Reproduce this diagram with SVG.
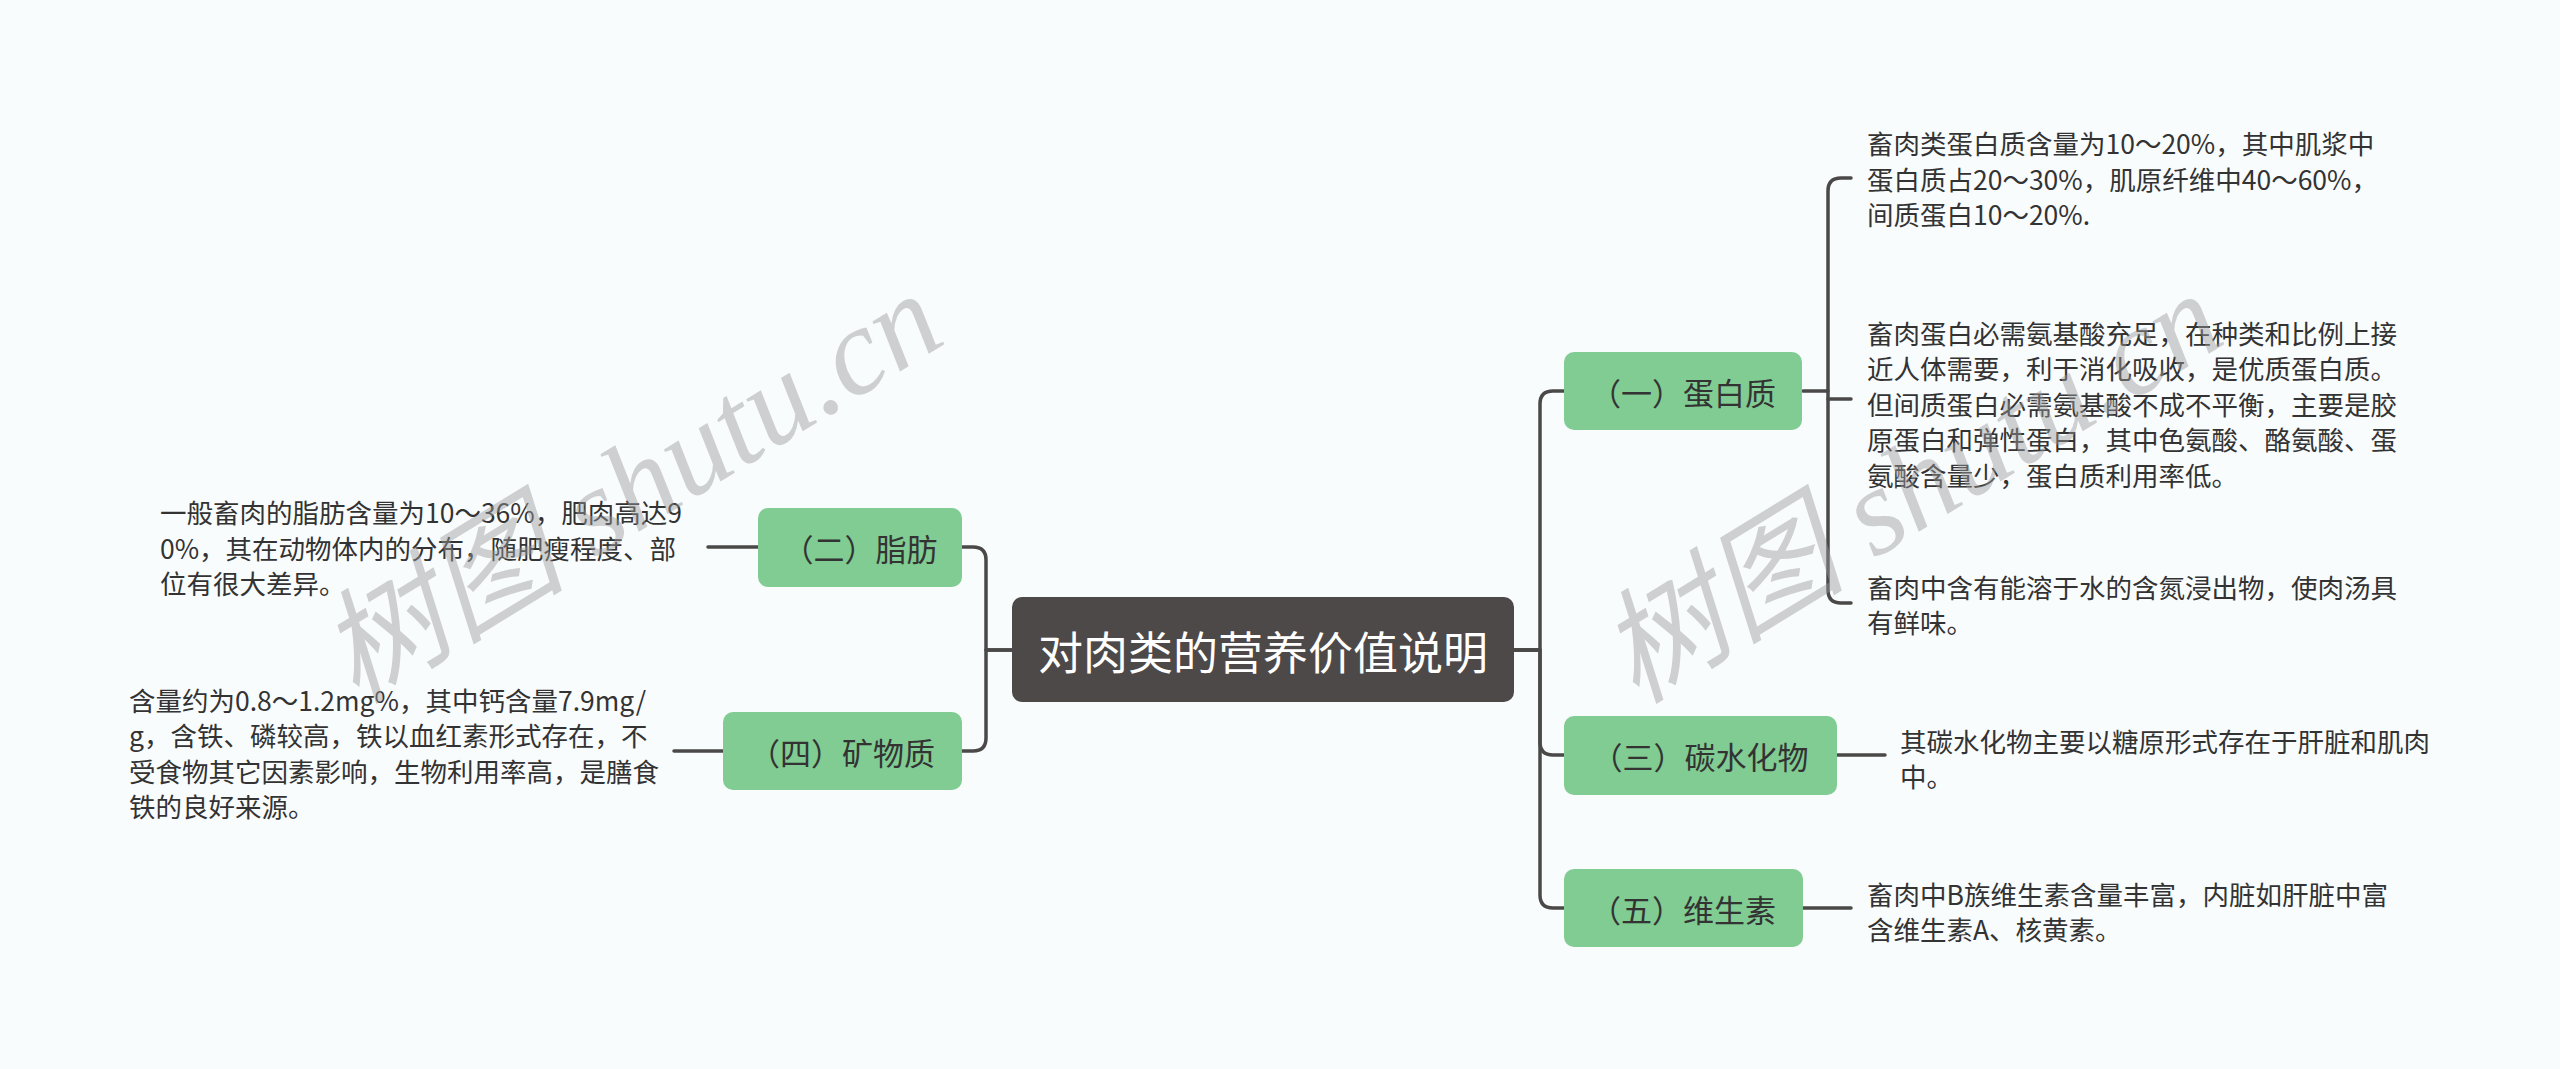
<svg xmlns="http://www.w3.org/2000/svg" width="2560" height="1069" viewBox="0 0 2560 1069">
<style>
.bg{fill:#f9fcfd}
.con{fill:none;stroke:#4b4848;stroke-width:3.5;stroke-linecap:round;stroke-linejoin:round}
.root rect{fill:#4e4949}
.root text{fill:#ffffff;font-family:"Noto Sans CJK SC","Noto Sans",sans-serif;font-size:45px;text-anchor:middle;dominant-baseline:central}
.topic rect{fill:#80cc92}
.topic text{fill:#333333;font-family:"Noto Sans CJK SC","Noto Sans",sans-serif;font-size:31px;text-anchor:middle;dominant-baseline:central}
.leaf text{fill:#333333;font-family:"Noto Sans CJK SC","Noto Sans",sans-serif;font-size:26.5px;dominant-baseline:central}
.wm{fill:#9a9a9a;fill-opacity:0.45;font-family:"Liberation Serif","Noto Sans CJK SC",serif;font-size:124px;font-style:italic}
</style>
<rect class="bg" x="0" y="0" width="2560" height="1069"/>

<g id="connectors">
<path class="con" d="M1513 650 H1540 V404 Q1540 391 1553 391 H1564"/>
<path class="con" d="M1513 650 H1540 V742 Q1540 755 1553 755 H1564"/>
<path class="con" d="M1513 650 H1540 V895 Q1540 908 1553 908 H1564"/>
<path class="con" d="M1014 650 H986 V560 Q986 547 973 547 H962"/>
<path class="con" d="M1014 650 H986 V738 Q986 751 973 751 H962"/>
<path class="con" d="M1803 391 H1828 V191 Q1828 178 1841 178 H1851"/>
<path class="con" d="M1828 391 V590 Q1828 603 1841 603 H1851"/>
<path class="con" d="M1828 399 H1851"/>
<path class="con" d="M1837 755 H1885"/>
<path class="con" d="M1803 908 H1851"/>
<path class="con" d="M758 547 H708"/>
<path class="con" d="M723 751 H674"/>
</g>

<g id="root" class="root">
<rect x="1012" y="597" width="502" height="105" rx="10"/>
<text x="1263" y="650">对肉类的营养价值说明</text>
</g>

<g id="topic-protein" class="topic">
<rect x="1564" y="352" width="238" height="78" rx="10"/>
<text x="1683" y="391">（一）蛋白质</text>
</g>
<g id="topic-carb" class="topic">
<rect x="1564" y="716" width="273" height="79" rx="10"/>
<text x="1700" y="755">（三）碳水化物</text>
</g>
<g id="topic-vitamin" class="topic">
<rect x="1564" y="869" width="239" height="78" rx="10"/>
<text x="1683" y="908">（五）维生素</text>
</g>
<g id="topic-fat" class="topic">
<rect x="758" y="508" width="204" height="79" rx="10"/>
<text x="860" y="547">（二）脂肪</text>
</g>
<g id="topic-mineral" class="topic">
<rect x="723" y="712" width="239" height="78" rx="10"/>
<text x="842" y="751">（四）矿物质</text>
</g>

<g id="leaf-protein-1" class="leaf">
<text x="1867" y="142.5">畜肉类蛋白质含量为10～20%，其中肌浆中</text>
<text x="1867" y="178">蛋白质占20～30%，肌原纤维中40～60%，</text>
<text x="1867" y="213.5">间质蛋白10～20%.</text>
</g>
<g id="leaf-protein-2" class="leaf">
<text x="1867" y="332">畜肉蛋白必需氨基酸充足，在种类和比例上接</text>
<text x="1867" y="367.5">近人体需要，利于消化吸收，是优质蛋白质。</text>
<text x="1867" y="403">但间质蛋白必需氨基酸不成不平衡，主要是胶</text>
<text x="1867" y="438.5">原蛋白和弹性蛋白，其中色氨酸、酪氨酸、蛋</text>
<text x="1867" y="474">氨酸含量少，蛋白质利用率低。</text>
</g>
<g id="leaf-protein-3" class="leaf">
<text x="1867" y="586">畜肉中含有能溶于水的含氮浸出物，使肉汤具</text>
<text x="1867" y="621">有鲜味。</text>
</g>
<g id="leaf-carb" class="leaf">
<text x="1900" y="740">其碳水化物主要以糖原形式存在于肝脏和肌肉</text>
<text x="1900" y="775.5">中。</text>
</g>
<g id="leaf-vitamin" class="leaf">
<text x="1867" y="893">畜肉中B族维生素含量丰富，内脏如肝脏中富</text>
<text x="1867" y="928">含维生素A、核黄素。</text>
</g>
<g id="leaf-fat" class="leaf">
<text x="160" y="511.5">一般畜肉的脂肪含量为10～36%，肥肉高达9</text>
<text x="160" y="547">0%，其在动物体内的分布，随肥瘦程度、部</text>
<text x="160" y="582.5">位有很大差异。</text>
</g>
<g id="leaf-mineral" class="leaf">
<text x="129" y="699">含量约为0.8～1.2mg%，其中钙含量7.9mg/</text>
<text x="129" y="734.5">g，含铁、磷较高，铁以血红素形式存在，不</text>
<text x="129" y="770">受食物其它因素影响，生物利用率高，是膳食</text>
<text x="129" y="805.5">铁的良好来源。</text>
</g>

<g id="watermarks">
<text class="wm" x="356" y="705" transform="rotate(-31.5 356 705)">树图 shutu.cn</text>
<text class="wm" x="1636" y="705" transform="rotate(-31.5 1636 705)">树图 shutu.cn</text>
</g>
</svg>
